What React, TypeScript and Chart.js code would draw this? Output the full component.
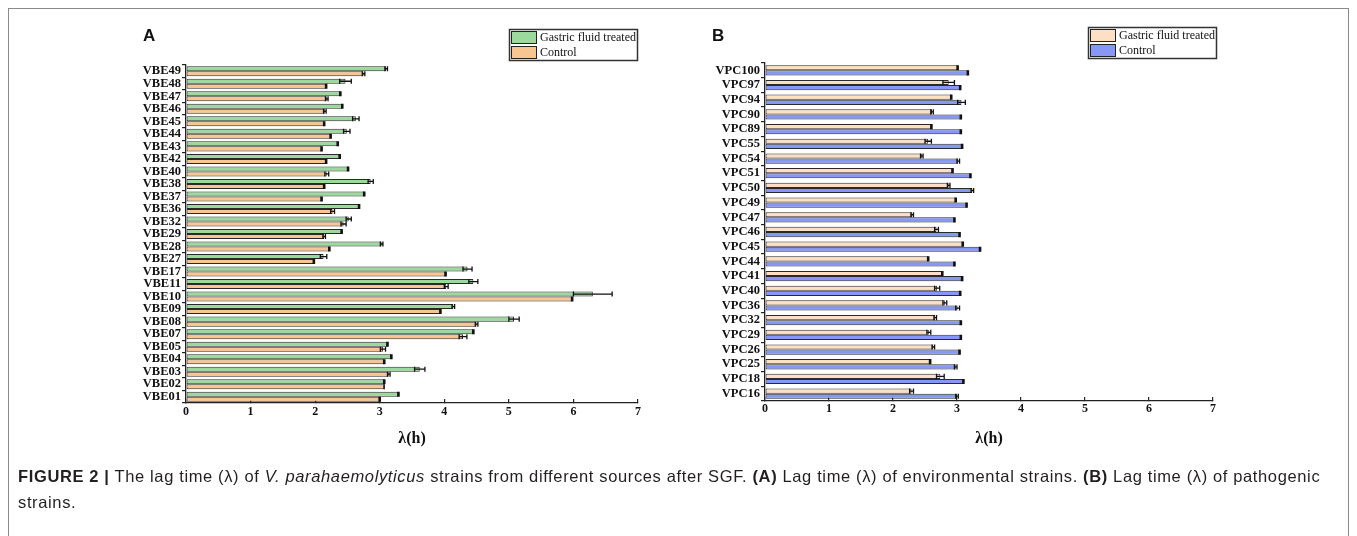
import React, { useEffect, useRef } from 'react';
import { Chart, registerables } from 'chart.js';

Chart.register(...registerables);

// ---------- Panel A: environmental strains ----------
const catsA = ['VBE49', 'VBE48', 'VBE47', 'VBE46', 'VBE45', 'VBE44', 'VBE43', 'VBE42', 'VBE40', 'VBE38', 'VBE37', 'VBE36', 'VBE32', 'VBE29', 'VBE28', 'VBE27', 'VBE17', 'VBE11', 'VBE10', 'VBE09', 'VBE08', 'VBE07', 'VBE05', 'VBE04', 'VBE03', 'VBE02', 'VBE01'];
const gastricA = [3.10, 2.47, 2.39, 2.42, 2.63, 2.49, 2.35, 2.38, 2.51, 2.86, 2.76, 2.68, 2.52, 2.41, 3.03, 2.13, 4.36, 4.45, 6.30, 4.14, 5.08, 4.45, 3.12, 3.18, 3.62, 3.07, 3.29];
const gastricErrA = [0.02, 0.09, 0.01, 0.01, 0.05, 0.05, 0.01, 0.01, 0.01, 0.04, 0.01, 0.01, 0.04, 0.01, 0.02, 0.05, 0.07, 0.07, 0.30, 0.02, 0.08, 0.01, 0.01, 0.01, 0.08, 0.01, 0.01];
const controlA = [2.75, 2.17, 2.18, 2.15, 2.14, 2.24, 2.10, 2.17, 2.18, 2.14, 2.10, 2.27, 2.44, 2.14, 2.22, 1.98, 4.02, 4.03, 5.98, 3.94, 4.50, 4.29, 3.05, 3.07, 3.14, 3.07, 3.00];
const controlErrA = [0.02, 0.01, 0.02, 0.02, 0.01, 0.01, 0.01, 0.01, 0.03, 0.01, 0.01, 0.03, 0.04, 0.02, 0.01, 0.01, 0.01, 0.03, 0.01, 0.01, 0.02, 0.06, 0.04, 0.01, 0.02, 0.0, 0.01];

// ---------- Panel B: pathogenic strains ----------
const catsB = ['VPC100', 'VPC97', 'VPC94', 'VPC90', 'VPC89', 'VPC55', 'VPC54', 'VPC51', 'VPC50', 'VPC49', 'VPC47', 'VPC46', 'VPC45', 'VPC44', 'VPC41', 'VPC40', 'VPC36', 'VPC32', 'VPC29', 'VPC26', 'VPC25', 'VPC18', 'VPC16'];
const gastricB = [3.01, 2.87, 2.91, 2.61, 2.60, 2.55, 2.45, 2.93, 2.87, 2.98, 2.30, 2.68, 3.09, 2.55, 2.77, 2.69, 2.81, 2.66, 2.56, 2.63, 2.58, 2.74, 2.29];
const gastricErrB = [0.01, 0.09, 0.01, 0.02, 0.01, 0.05, 0.02, 0.01, 0.02, 0.01, 0.02, 0.03, 0.01, 0.01, 0.01, 0.04, 0.03, 0.02, 0.03, 0.02, 0.01, 0.06, 0.03];
const controlB = [3.17, 3.05, 3.07, 3.06, 3.06, 3.08, 3.02, 3.21, 3.24, 3.15, 2.96, 3.04, 3.36, 2.96, 3.08, 3.05, 3.01, 3.06, 3.06, 3.04, 2.98, 3.10, 3.00];
const controlErrB = [0.01, 0.01, 0.06, 0.01, 0.01, 0.01, 0.02, 0.01, 0.02, 0.01, 0.01, 0.01, 0.01, 0.01, 0.01, 0.01, 0.03, 0.01, 0.01, 0.01, 0.02, 0.01, 0.02];

const seriesLabels = ['Gastric fluid treated', 'Control'];
const xTitle = 'λ(h)';

const SERIF = "'Liberation Serif', 'Times New Roman', serif";

const errorBarPlugin = {
  id: 'errorBars',
  afterDatasetsDraw(chart: any) {
    const { ctx } = chart;
    const xs = chart.scales.x;
    chart.data.datasets.forEach((ds: any, i: number) => {
      const meta = chart.getDatasetMeta(i);
      const errs = ds.errors || [];
      meta.data.forEach((el: any, j: number) => {
        const v = ds.data[j];
        const e = errs[j] ?? 0;
        const y = el.y;
        const h = el.height;
        const x1 = xs.getPixelForValue(v - e);
        const x2 = xs.getPixelForValue(v + e);
        ctx.save();
        ctx.strokeStyle = '#111';
        ctx.lineWidth = 1.3;
        ctx.beginPath();
        ctx.moveTo(x1, y);
        ctx.lineTo(x2, y);
        ctx.moveTo(x1, y - h / 2);
        ctx.lineTo(x1, y + h / 2);
        ctx.moveTo(x2, y - h / 2);
        ctx.lineTo(x2, y + h / 2);
        ctx.stroke();
        ctx.restore();
      });
    });
  },
};

const boxLegendPlugin = {
  id: 'boxLegend',
  afterDraw(chart: any, _args: any, opts: any) {
    const { ctx, chartArea } = chart;
    const w = opts.width;
    const h = opts.height;
    const right = chartArea.right + opts.dx;
    const left = right - w;
    const top = chartArea.top + opts.dy;
    ctx.save();
    ctx.fillStyle = '#fff';
    ctx.fillRect(left, top, w, h);
    ctx.strokeStyle = '#333';
    ctx.lineWidth = 1.5;
    ctx.strokeRect(left + 0.5, top + 0.5, w, h);
    chart.data.datasets.forEach((ds: any, i: number) => {
      const sy = top + 2 + i * 15;
      ctx.fillStyle = ds.backgroundColor;
      ctx.fillRect(left + 2, sy, 26, 13);
      ctx.strokeStyle = '#222';
      ctx.lineWidth = 1;
      ctx.strokeRect(left + 2.5, sy + 0.5, 25, 12);
      ctx.fillStyle = '#111';
      ctx.font = `12px ${SERIF}`;
      ctx.textBaseline = 'middle';
      ctx.textAlign = 'left';
      ctx.fillText(ds.label, left + 31, sy + 7);
    });
    ctx.restore();
  },
};

function makeConfig(p: any) {
  const mk = (label: string, data: number[], errors: number[], color: string) => ({
    label,
    data,
    errors,
    backgroundColor: color,
    borderColor: '#2a2a2a',
    borderWidth: 1,
    borderSkipped: false,
    categoryPercentage: p.catPct,
    barPercentage: 1,
  });
  return {
    type: 'bar',
    data: {
      labels: p.cats,
      datasets: [
        mk(seriesLabels[0], p.g, p.gE, p.c1),
        mk(seriesLabels[1], p.c, p.cE, p.c2),
      ],
    },
    plugins: [errorBarPlugin, boxLegendPlugin],
    options: {
      indexAxis: 'y',
      animation: false,
      responsive: false,
      maintainAspectRatio: false,
      layout: { padding: p.padding },
      plugins: {
        legend: { display: false },
        tooltip: { enabled: false },
        boxLegend: { width: 128, height: 31, dx: p.legendDx, dy: -36 },
      },
      scales: {
        x: {
          min: 0,
          max: 7,
          afterFit: (s: any) => { s.height = 50; },
          ticks: { stepSize: 1, color: '#111', font: { family: SERIF, size: 12, weight: 'bold' }, padding: p.xTickPad },
          grid: { drawOnChartArea: false, drawTicks: true, tickLength: -4, color: '#222', lineWidth: 1.2 },
          border: { color: '#222', width: 1.3 },
          title: {
            display: true,
            text: xTitle,
            color: '#111',
            font: { family: SERIF, size: 16, weight: 'bold' },
            padding: { top: 0, bottom: p.titlePad },
          },
        },
        y: {
          afterFit: (s: any) => { s.width = 66; },
          ticks: { autoSkip: false, color: '#111', font: { family: SERIF, size: 12.5, weight: 'bold', lineHeight: 1 }, padding: 1 },
          grid: { offset: true, drawOnChartArea: false, drawTicks: true, tickLength: 4, color: '#222', lineWidth: 1.2 },
          border: { color: '#222', width: 1.3 },
        },
      },
    },
  };
}

function BarPanel(props: any) {
  const ref = useRef<HTMLCanvasElement | null>(null);
  useEffect(() => {
    if (!ref.current) return;
    const chart = new Chart(ref.current, makeConfig(props) as any);
    return () => chart.destroy();
  }, []);
  return (
    <canvas
      ref={ref}
      width={props.w}
      height={props.h}
      style={{ position: 'absolute', left: props.left, top: props.top, width: props.w, height: props.h }}
    />
  );
}

export default function App() {
  return (
    <div style={{ position: 'absolute', left: 0, top: 0, width: 1357, height: 536, overflow: 'hidden', background: '#fff' }}>
      <div style={{ position: 'absolute', left: 8, top: 8, width: 1339, height: 600, border: '1px solid #8a8a8a' }} />
      <BarPanel
        left={0} top={0} w={680} h={470}
        cats={catsA} g={gastricA} gE={gastricErrA} c={controlA} cE={controlErrA}
        c1="#9cd99c" c2="#f9c590" catPct={0.8}
        padding={{ left: 120, right: 42, top: 65, bottom: 17 }}
        xTickPad={6} titlePad={5} legendDx={-1}
      />
      <BarPanel
        left={600} top={0} w={680} h={470}
        cats={catsB} g={gastricB} gE={gastricErrB} c={controlB} cE={controlErrB}
        c1="#fddfc4" c2="#8797f5" catPct={0.7}
        padding={{ left: 99, right: 67, top: 63, bottom: 19 }}
        xTickPad={5} titlePad={3} legendDx={3}
      />
      <div style={{ position: 'absolute', left: 143, top: 27, font: "bold 17px 'Liberation Sans', Arial, sans-serif", lineHeight: 1, color: '#111' }}>A</div>
      <div style={{ position: 'absolute', left: 712, top: 27, font: "bold 17px 'Liberation Sans', Arial, sans-serif", lineHeight: 1, color: '#111' }}>B</div>
      <div style={{ position: 'absolute', left: 18, top: 464, font: "16.5px 'Liberation Sans', Arial, sans-serif", letterSpacing: '0.63px', lineHeight: '25.5px', color: '#231f20', whiteSpace: 'nowrap' }}>
        <b>FIGURE 2 |</b> The lag time (λ) of <i>V. parahaemolyticus</i> strains from different sources after SGF. <b>(A)</b> Lag time (λ) of environmental strains. <b>(B)</b> Lag time (λ) of pathogenic
        <br />
        strains.
      </div>
    </div>
  );
}
